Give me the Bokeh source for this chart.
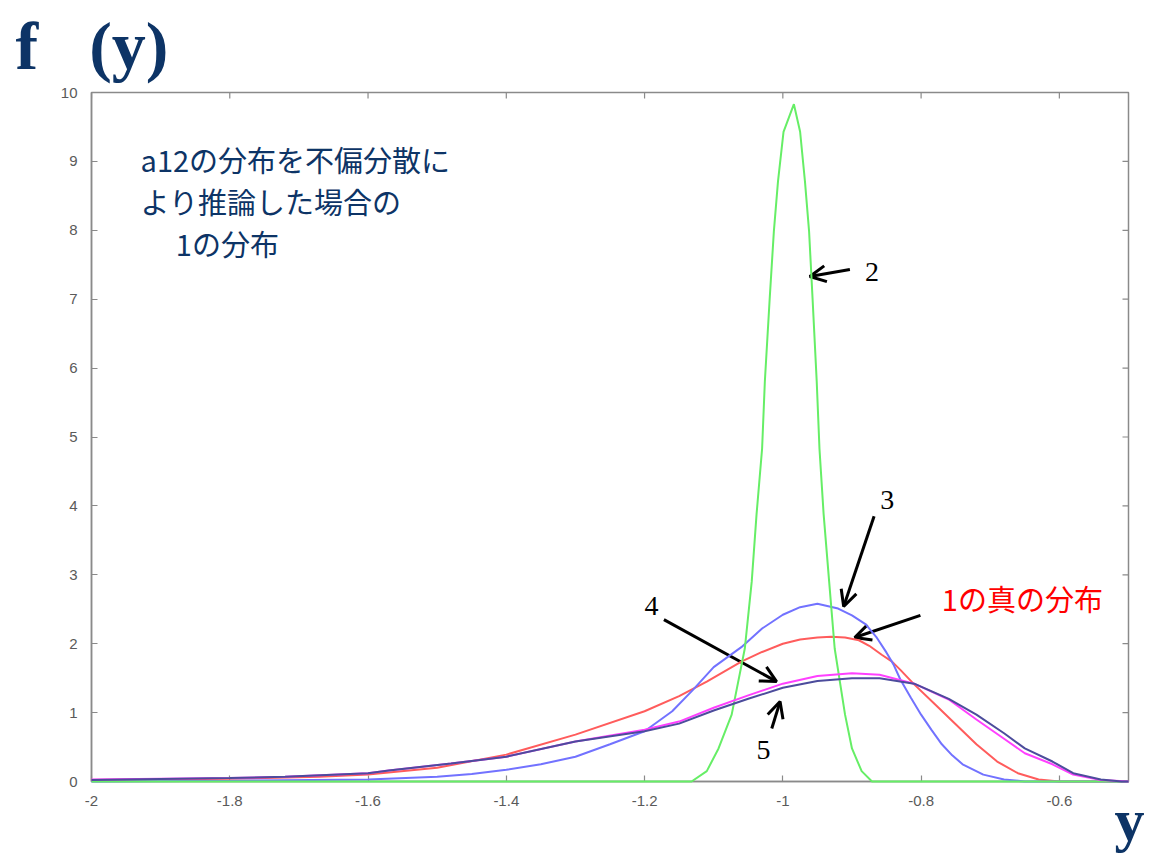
import math
from bokeh.plotting import figure
from bokeh.models import Range1d, FixedTicker, Label, Arrow, OpenHead, Title
from bokeh.embed import file_html
from bokeh.resources import INLINE

# ---------------- data ----------------
x_ticks = [-2.0, -1.8, -1.6, -1.4, -1.2, -1.0, -0.8, -0.6]
x_tick_labels = ["-2", "-1.8", "-1.6", "-1.4", "-1.2", "-1", "-0.8", "-0.6"]
y_ticks = [0, 1, 2, 3, 4, 5, 6, 7, 8, 9, 10]
y_tick_labels = ["0", "1", "2", "3", "4", "5", "6", "7", "8", "9", "10"]

# curve 2 (green)
c2_x = [-2.0, -1.132, -1.110, -1.093, -1.074, -1.055, -1.045, -1.038, -1.030, -1.026,
        -1.019, -1.013, -1.007, -0.999, -0.984, -0.975, -0.968, -0.962, -0.957, -0.951,
        -0.947, -0.941, -0.933, -0.925, -0.910, -0.900, -0.886, -0.871, -0.5]
c2_y = [0.0, 0.0, 0.15, 0.48, 0.97, 1.93, 2.90, 3.88, 4.83, 5.81,
        7.01, 7.98, 8.71, 9.43, 9.83, 9.43, 8.71, 7.98, 7.01, 5.81,
        4.83, 3.88, 2.90, 1.93, 0.97, 0.48, 0.15, 0.0, 0.0]

# curve 3 (blue)
c3_x = [-2.0, -1.8, -1.6, -1.5, -1.45, -1.4, -1.35, -1.3, -1.25, -1.2, -1.16, -1.13,
        -1.1, -1.06, -1.03, -1.0, -0.975, -0.95, -0.92, -0.9, -0.88, -0.865, -0.85,
        -0.84, -0.83, -0.815, -0.8, -0.785, -0.77, -0.755, -0.74, -0.71, -0.68,
        -0.65, -0.5]
c3_y = [0.0, 0.01, 0.03, 0.07, 0.11, 0.17, 0.25, 0.36, 0.54, 0.73, 1.02, 1.33,
        1.66, 1.95, 2.22, 2.42, 2.53, 2.58, 2.51, 2.41, 2.28, 2.10, 1.87,
        1.70, 1.48, 1.22, 0.97, 0.75, 0.54, 0.38, 0.25, 0.10, 0.03,
        0.0, 0.0]

# true distribution of 1 (red)
c1_x = [-2.0, -1.8, -1.67, -1.6, -1.5, -1.4, -1.3, -1.2, -1.15, -1.11, -1.06, -1.03,
        -1.0, -0.975, -0.95, -0.93, -0.91, -0.89, -0.875, -0.857, -0.842, -0.83,
        -0.81, -0.78, -0.75, -0.72, -0.69, -0.66, -0.63, -0.6, -0.5]
c1_y = [0.02, 0.04, 0.07, 0.10, 0.20, 0.39, 0.68, 1.02, 1.24, 1.45, 1.74, 1.88,
        2.00, 2.06, 2.09, 2.10, 2.09, 2.05, 1.97, 1.84, 1.74, 1.62,
        1.41, 1.12, 0.83, 0.54, 0.29, 0.12, 0.03, 0.0, 0.0]

# curve 4 (magenta)
c4_x = [-2.0, -1.8, -1.72, -1.6, -1.57, -1.48, -1.4, -1.3, -1.2, -1.15, -1.1, -1.05,
        -1.0, -0.95, -0.9, -0.86, -0.81, -0.76, -0.72, -0.68, -0.65, -0.61, -0.58,
        -0.54, -0.5]
c4_y = [0.03, 0.05, 0.07, 0.12, 0.16, 0.26, 0.36, 0.58, 0.75, 0.87, 1.07, 1.25,
        1.42, 1.53, 1.57, 1.55, 1.42, 1.19, 0.90, 0.62, 0.41, 0.25, 0.10,
        0.02, 0.0]

# curve 5 (dark blue)
c5_x = [-2.0, -1.8, -1.72, -1.6, -1.57, -1.48, -1.4, -1.3, -1.2, -1.15, -1.1, -1.05,
        -1.0, -0.95, -0.9, -0.86, -0.81, -0.76, -0.72, -0.68, -0.65, -0.61, -0.58,
        -0.54, -0.51, -0.5]
c5_y = [0.02, 0.05, 0.07, 0.12, 0.16, 0.26, 0.36, 0.58, 0.73, 0.84, 1.03, 1.20,
        1.36, 1.46, 1.50, 1.50, 1.42, 1.20, 0.97, 0.70, 0.48, 0.29, 0.12,
        0.03, 0.0, 0.0]

# ---------------- figure ----------------
XMIN, XMAX, YMIN, YMAX = -2.0, -0.5, 0, 10
p = figure(frame_width=1037, frame_height=689,
           min_border_left=91, min_border_top=91, min_border_right=17, min_border_bottom=80,
           x_range=Range1d(XMIN, XMAX), y_range=Range1d(YMIN, YMAX),
           output_backend="svg", toolbar_location=None,
           background_fill_color="white", border_fill_color="white")
p.grid.visible = False

AX = "#8a8a8a"
NAVY = "#0d3466"
serif = "Liberation Serif"
cjk = "Noto Sans CJK JP"

p.outline_line_color = AX
p.outline_line_width = 1.5

for ax in (p.xaxis[0], p.yaxis[0]):
    ax.axis_line_color = AX
    ax.axis_line_width = 1.5
    ax.major_tick_line_color = AX
    ax.major_tick_line_width = 1.2
    ax.major_tick_in = 6
    ax.major_tick_out = 0
    ax.minor_tick_line_color = None
    ax.major_label_text_font = "Liberation Sans"
    ax.major_label_text_font_size = "15px"
    ax.major_label_text_color = "#5a5a5a"
    ax.major_label_standoff = 14

p.xaxis[0].ticker = FixedTicker(ticks=x_ticks)
p.xaxis[0].major_label_overrides = {t: s for t, s in zip(x_ticks, x_tick_labels)}
p.yaxis[0].ticker = FixedTicker(ticks=y_ticks)
p.yaxis[0].major_label_overrides = {t: s for t, s in zip(y_ticks, y_tick_labels)}

# axis name "y" at the bottom right
p.add_layout(Title(text="y", align="right", vertical_align="top", offset=-16, standoff=-44,
                   text_font=serif, text_font_style="bold", text_font_size="60px",
                   text_color=NAVY), "below")

# mirrored inward ticks on top and right (half of each dash is clipped by the frame)
p.scatter(x_ticks, [YMAX] * len(x_ticks), marker="dash", size=12, angle=math.pi / 2,
          line_color=AX, line_width=1.2)
p.scatter([XMAX] * len(y_ticks), y_ticks, marker="dash", size=12,
          line_color=AX, line_width=1.2)

# title f (y)
p.title.text = "f\u00a0\u00a0\u00a0(y)"
p.title.text_font = serif
p.title.text_font_style = "bold"
p.title.text_font_size = "68px"
p.title.text_color = NAVY
p.title.align = "left"
p.title.offset = -76
p.title.vertical_align = "top"
p.title.standoff = 14

# ---------------- curves ----------------
p.line(c1_x, c1_y, line_color="#ff5c5c", line_width=2, level="overlay")
p.line(c3_x, c3_y, line_color="#7272ff", line_width=2, level="overlay")
p.line(c2_x, c2_y, line_color="#66ee66", line_width=2, level="overlay")
p.line(c4_x, c4_y, line_color="#ff40ff", line_width=2, level="overlay")
p.line(c5_x, c5_y, line_color="#4c4c9c", line_width=2, level="overlay")

# ---------------- annotations ----------------
p.add_layout(Label(x=-1.929, y=9.03, text="a12の分布を不偏分散に", text_font=cjk,
                   text_font_size="29px", text_color=NAVY, text_baseline="middle"))
p.add_layout(Label(x=-1.929, y=8.42, text="より推論した場合の", text_font=cjk,
                   text_font_size="29px", text_color=NAVY, text_baseline="middle"))
p.add_layout(Label(x=-1.878, y=7.81, text="1の分布", text_font=cjk,
                   text_font_size="29px", text_color=NAVY, text_baseline="middle"))

p.add_layout(Label(x=-0.770, y=2.67, text="1の真の分布", text_font=cjk,
                   text_font_size="29px", text_color="#ff0000", text_baseline="middle"))

num_labels = [("2", -0.871, 7.40), ("3", -0.849, 4.09), ("4", -1.190, 2.54), ("5", -1.028, 0.46)]
for t, lx, ly in num_labels:
    p.add_layout(Label(x=lx, y=ly, text=t, text_font=serif, text_font_size="28px",
                       text_color="black", text_align="center", text_baseline="middle"))

arrows = [(-0.903, 7.43, -0.961, 7.33),
          (-0.868, 3.85, -0.912, 2.54),
          (-0.801, 2.41, -0.896, 2.09),
          (-1.172, 2.35, -1.009, 1.45),
          (-1.016, 0.77, -1.004, 1.16)]
for xs, ys, xe, ye in arrows:
    p.add_layout(Arrow(end=OpenHead(size=16, line_width=3, line_color="black"),
                       x_start=xs, y_start=ys, x_end=xe, y_end=ye,
                       line_width=3, line_color="black"))

open("out.html", "w").write(file_html(p, INLINE))
